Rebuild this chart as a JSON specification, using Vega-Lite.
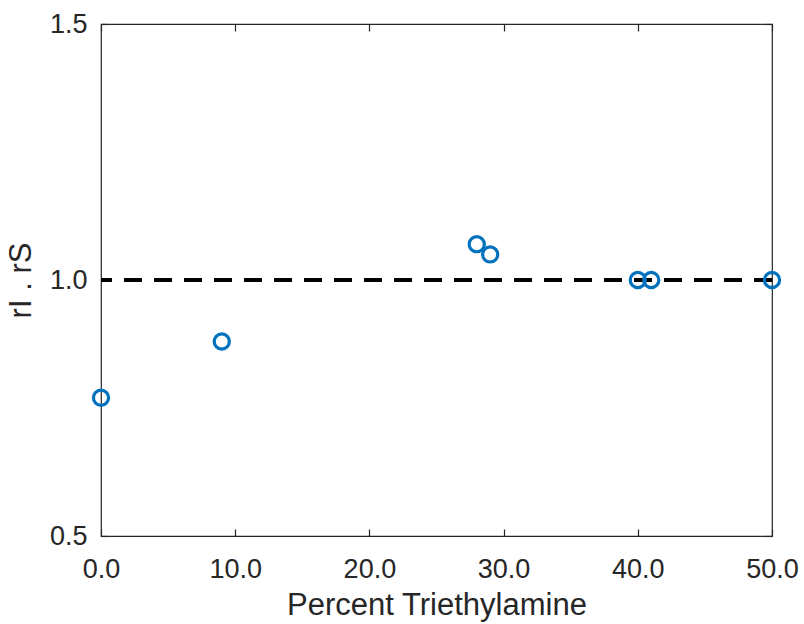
{
  "$schema": "https://vega.github.io/schema/vega-lite/v6.json",
  "width": 671,
  "height": 512,
  "autosize": "none",
  "padding": {"left": 101, "top": 24, "right": 32, "bottom": 88},
  "background": "white",
  "config": {
    "font": "Liberation Sans",
    "view": {"stroke": "#262626", "strokeWidth": 1.2},
    "axis": {
      "domain": false,
      "grid": false,
      "ticks": true,
      "tickColor": "#262626",
      "tickWidth": 1.2,
      "labelFlush": false,
      "labelFont": "Liberation Sans",
      "labelFontSize": 27,
      "labelColor": "#262626",
      "titleFont": "Liberation Sans",
      "titleFontSize": 31,
      "titleFontWeight": "normal",
      "titleColor": "#262626"
    }
  },
  "data": {
    "values": [
      {"pct": 0, "ratio": 0.77},
      {"pct": 9, "ratio": 0.88},
      {"pct": 28, "ratio": 1.07},
      {"pct": 29, "ratio": 1.05},
      {"pct": 40, "ratio": 1.0},
      {"pct": 41, "ratio": 1.0},
      {"pct": 50, "ratio": 1.0}
    ]
  },
  "layer": [
    {
      "mark": {"type": "rule", "color": "black", "strokeWidth": 3, "strokeDash": [18, 12]},
      "encoding": {
        "y": {"datum": 1.0, "type": "quantitative", "scale": {"domain": [0.5, 1.5], "nice": false, "zero": false}, "axis": null}
      }
    },
    {
      "mark": {"type": "point", "shape": "circle", "filled": false, "stroke": "#0072BD", "strokeWidth": 3.2, "size": 230, "opacity": 1, "clip": false},
      "encoding": {
        "x": {
          "field": "pct", "type": "quantitative",
          "scale": {"domain": [0, 50], "nice": false, "zero": false},
          "axis": {"orient": "bottom", "values": [0, 10, 20, 30, 40, 50], "format": ".1f", "tickSize": -7, "labelPadding": 27, "title": "Percent Triethylamine", "titlePadding": 8}
        },
        "y": {
          "field": "ratio", "type": "quantitative",
          "scale": {"domain": [0.5, 1.5], "nice": false, "zero": false},
          "axis": {"orient": "left", "values": [0.5, 1.0, 1.5], "format": ".1f", "tickSize": -7, "labelPadding": 21, "title": "rI . rS", "titlePadding": 12}
        }
      }
    },
    {
      "mark": {"type": "point", "opacity": 0},
      "encoding": {
        "x": {
          "field": "pct", "type": "quantitative",
          "scale": {"domain": [0, 50], "nice": false, "zero": false},
          "axis": {"orient": "top", "values": [0, 10, 20, 30, 40, 50], "labels": false, "tickSize": -7, "title": null}
        },
        "y": {
          "field": "ratio", "type": "quantitative",
          "scale": {"domain": [0.5, 1.5], "nice": false, "zero": false},
          "axis": {"orient": "right", "values": [0.5, 1.0, 1.5], "labels": false, "tickSize": -7, "title": null}
        }
      }
    }
  ],
  "resolve": {"axis": {"x": "independent", "y": "independent"}}
}
